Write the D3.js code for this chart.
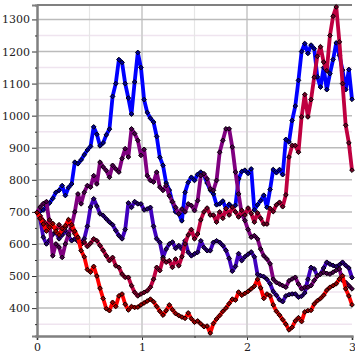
<!DOCTYPE html>
<html>
<head>
<meta charset="utf-8">
<script src="https://cdn.jsdelivr.net/npm/d3@7"></script>
<style>
  html, body { margin: 0; padding: 0; background: #fff; }
  svg { display: block; }
  .axis text { font-family: "DejaVu Serif", serif; font-size: 11px; fill: #222; }
</style>
</head>
<body>
<svg id="chart" width="355" height="355"></svg>
<script>
// x runs from 0 to 3 in steps of 0.03 (101 points per series)
var xStep = 0.03;

var blue = [698,702,706,718,728,742,761,767,782,751, 776,787,855,850,862,878,893,904,965,942,
            906,915,940,958,1060,1100,1175,1166,1100,1055, 1005,1105,1197,1150,1050,1010,992,980,935,870,
            845,790,768,730,700,694,672,761,792,808, 798,817,824,815,790,768,756,722,725,734,
            710,724,714,720,803,826,830,820,834,706, 722,735,752,714,770,832,822,832,816,926,
            918,985,1030,1110,1200,1225,1194,1220,1209,1121, 1089,1150,1081,1131,1175,1227,1188,1142,1081,1144,1051];

var indigo = [698,678,621,600,612,630,637,616,628,642, 625,610,616,608,605,616,655,715,741,718,
              694,689,678,668,660,642,626,616,645,728, 714,732,725,725,706,709,714,655,616,605,
              558,584,600,606,586,595,584,610,574,563, 569,574,610,589,579,579,605,610,605,595,
              580,555,515,530,570,548,560,568,575,560, 505,501,498,490,476,452,440,426,420,438,
              442,444,444,434,437,447,490,527,522,501, 506,525,543,537,533,529,535,543,533,525,495];

var purple = [698,715,726,732,660,563,600,590,558,600, 630,657,700,756,725,761,782,777,813,787,
              855,840,829,808,845,834,824,866,897,871, 959,944,923,876,895,813,798,793,824,777,
              767,782,750,732,714,694,709,700,725,720, 704,735,813,819,803,772,767,798,886,923,
              959,959,902,824,756,694,673,645,621,626, 616,584,563,553,538,490,480,475,470,465,
              485,491,496,475,460,465,465,470,486,500, 506,512,508,506,512,518,522,486,480,470,460];

var crimson = [698,688,672,660,675,655,645,660,640,652, 668,648,632,616,598,606,592,602,616,610,
               595,580,563,548,558,532,527,506,496,496, 470,449,438,444,449,454,465,490,527,517,
               553,543,548,527,553,532,560,600,628,645, 616,631,675,700,712,690,690,668,700,680,
               710,690,715,700,684,705,690,712,695,668, 697,680,662,662,711,701,722,730,716,753,
               871,907,907,886,996,1066,996,1050,1120,1185, 1215,1167,1140,1250,1310,1339,1230,1100,970,915,830];

var red = [698,680,662,640,652,664,640,628,648,657, 676,660,640,621,579,560,520,512,530,500,
           462,430,398,392,418,405,438,444,412,394, 405,402,403,410,416,422,428,420,405,390,
           378,392,410,395,383,377,372,368,385,367, 356,360,351,342,344,322,352,366,377,390,
           400,414,428,425,450,440,446,452,460,468, 490,463,430,444,438,410,390,378,364,350,
           332,340,360,370,358,388,392,393,413,423, 430,440,456,465,470,476,491,501,460,438,410];

var series = [blue, indigo, purple, crimson, red];

var xTicks = [0, 1, 2, 3];
var xMinorTicks = [0.5, 1.5, 2.5];
var yTicks = [400, 500, 600, 700, 800, 900, 1000, 1100, 1200, 1300];
var yMinorTicks = [350, 450, 550, 650, 750, 850, 950, 1050, 1150, 1250];

var width = 355, height = 355;
var margin = {top: 5, right: 3, bottom: 19, left: 37};

var svg = d3.select("#chart");

var x = d3.scaleLinear().domain([0, 3]).range([margin.left, width - margin.right]);
var y = d3.scaleLinear().domain([313, 1345]).range([height - margin.bottom, margin.top]);
var color = d3.scaleLinear().domain([0, series.length - 1]).range(["#0000ff", "#ff0000"]).interpolate(d3.interpolateRgb);

// grid
var grid = svg.append("g");
grid.selectAll("line.hmin").data(yMinorTicks).enter().append("line")
    .attr("x1", margin.left).attr("x2", width - margin.right)
    .attr("y1", function(d) { return y(d); }).attr("y2", function(d) { return y(d); })
    .attr("stroke", "#efe4ef").attr("stroke-width", 1.5);
grid.selectAll("line.vmin").data(xMinorTicks).enter().append("line")
    .attr("y1", margin.top).attr("y2", height - margin.bottom)
    .attr("x1", function(d) { return x(d); }).attr("x2", function(d) { return x(d); })
    .attr("stroke", "#e6e6e6").attr("stroke-width", 1.2);
grid.selectAll("line.vmaj").data([1, 2]).enter().append("line")
    .attr("y1", margin.top).attr("y2", height - margin.bottom)
    .attr("x1", function(d) { return x(d); }).attr("x2", function(d) { return x(d); })
    .attr("stroke", "#d0d0d0").attr("stroke-width", 1.8);
grid.selectAll("line.hmaj").data(yTicks).enter().append("line")
    .attr("x1", margin.left).attr("x2", width - margin.right)
    .attr("y1", function(d) { return y(d); }).attr("y2", function(d) { return y(d); })
    .attr("stroke", "#bbbbbb").attr("stroke-width", 1.5);

// frame on top
svg.append("line")
    .attr("x1", margin.left).attr("x2", width - margin.right)
    .attr("y1", margin.top).attr("y2", margin.top)
    .attr("stroke", "#808080").attr("stroke-width", 2);

// axes
svg.append("g").attr("class", "axis")
    .attr("transform", "translate(" + margin.left + ",0)")
    .call(d3.axisLeft(y).tickValues(yTicks).tickSize(5).tickPadding(2).tickFormat(d3.format("d")));
svg.append("g").attr("class", "axis")
    .attr("transform", "translate(" + margin.left + ",0)")
    .call(d3.axisLeft(y).tickValues(yMinorTicks).tickSize(2).tickFormat(""));

svg.append("g").attr("class", "axis")
    .attr("transform", "translate(0," + (height - margin.bottom) + ")")
    .call(d3.axisBottom(x).tickValues(xTicks).tickSize(4).tickPadding(3).tickFormat(d3.format("d")));
svg.append("g").attr("class", "axis")
    .attr("transform", "translate(0," + (height - margin.bottom) + ")")
    .call(d3.axisBottom(x).tickValues(xMinorTicks).tickSize(2).tickFormat(""));

svg.selectAll(".axis .domain").attr("stroke", "#808080").attr("stroke-width", 2);
svg.selectAll(".axis .tick line").attr("stroke", "#333");

// lines
var line = d3.line()
    .x(function(d, i) { return x(i * xStep); })
    .y(function(d) { return y(d); });

var marker = d3.symbol().type(d3.symbolSquare).size(11);

series.forEach(function(values, k) {
    var g = svg.append("g");
    g.append("path")
        .datum(values)
        .attr("d", line)
        .attr("fill", "none")
        .attr("stroke", color(k))
        .attr("stroke-width", 3.8)
        .attr("stroke-linejoin", "round");
    g.selectAll("path.pt").data(values).enter().append("path")
        .attr("class", "pt")
        .attr("d", marker)
        .attr("transform", function(d, i) { return "translate(" + x(i * xStep) + "," + y(d) + ") rotate(45)"; })
        .attr("fill", d3.color(color(k)).darker(1.5))
        .attr("stroke", "#000")
        .attr("stroke-width", 0.9);
});
</script>
</body>
</html>
